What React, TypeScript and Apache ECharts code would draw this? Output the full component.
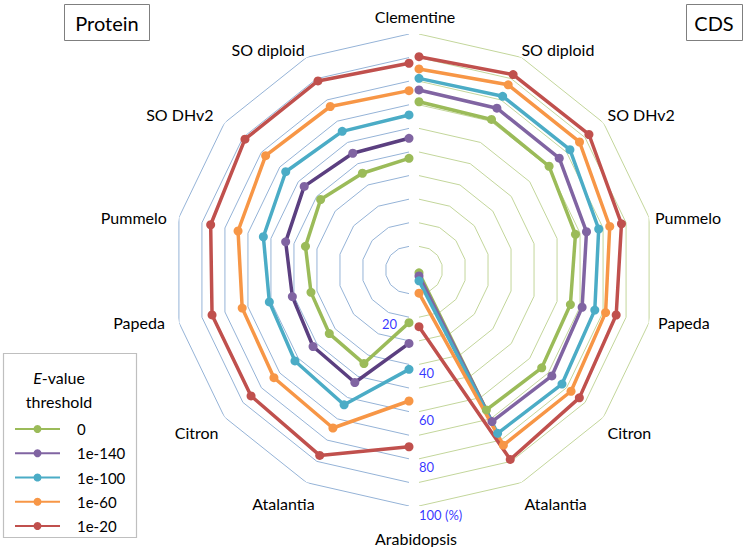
import React, { useEffect, useRef } from "react";
import * as echarts from "echarts";

// Category order: from the top (Clementine) down to the bottom (Arabidopsis);
// the right half runs clockwise, the left half counter-clockwise.
const categories = ["Clementine", "SO diploid", "SO DHv2", "Pummelo", "Papeda", "Citron", "Atalantia", "Arabidopsis"];
const thresholds = ["0", "1e-140", "1e-100", "1e-60", "1e-20"];

// Protein (left half), percent, in category order
const protein0 = [47.3, 45.5, 47.9, 45.0, 42.6, 43.2, 44.0, 22.3];
const protein1e140 = [55.8, 54.9, 56.8, 53.6, 50.7, 52.0, 52.9, 31.1];
const protein1e100 = [65.7, 65.2, 66.8, 63.3, 60.7, 61.8, 63.4, 42.1];
const protein1e60 = [76.0, 76.9, 77.7, 74.3, 72.5, 73.2, 74.3, 55.5];
const protein1e20 = [87.6, 88.9, 88.9, 86.2, 85.6, 85.6, 87.2, 74.9];

// CDS (right half), percent, in category order
const cds0 = [71.3, 70.8, 70.5, 68.0, 65.8, 66.5, 65.8, 1.2];
const cds1e140 = [76.3, 76.1, 76.0, 72.8, 70.9, 72.0, 71.3, 2.5];
const cds1e100 = [81.2, 81.7, 81.8, 78.1, 76.4, 77.5, 76.8, 4.6];
const cds1e60 = [85.2, 87.1, 87.0, 82.9, 81.1, 82.4, 82.4, 9.8];
const cds1e20 = [90.4, 91.9, 92.1, 88.0, 85.7, 86.9, 89.1, 24.0];

const ringLevels = [10, 20, 30, 40, 50, 60, 70, 80, 90, 100];
const tickValues = [20, 40, 60, 80, 100];
const tickLabels = ["20", "40", "60", "80", "100 (%)"];

const proteinSeries = [protein0, protein1e140, protein1e100, protein1e60, protein1e20];
const cdsSeries = [cds0, cds1e140, cds1e100, cds1e60, cds1e20];

const colors = ["#9BBB59", "#8064A2", "#4BACC6", "#F79646", "#C0504D"];
const leftLineColors = ["#9BBB59", "#5B3F80", "#4BACC6", "#F79646", "#C0504D"];
const FONT = "Lato";
const N = 14; // slots around the full circle

// label padding tweaks (style only) per slot index
const padsRight: Record<number, number[]> = {
  0: [0, 8, 10, 0],
  1: [0, 0, 0, 0],
  2: [0, 0, 0, 4],
  3: [3, 0, 0, 6],
  4: [11, 0, 0, 9],
  5: [7, 0, 0, 4],
  6: [13, 0, 0, 3],
  7: [24, 6, 0, 0],
};
const padsLeft: Record<number, number[]> = {
  1: [0, 2, 0, 0],
  2: [0, 11, 0, 0],
  3: [3, 12, 0, 0],
  4: [11, 14, 0, 0],
  5: [7, 6, 0, 0],
  6: [13, -8, 0, 0],
};

const slots = categories.map((_, i) => i);

function axisData(side: string, pads: Record<number, number[]>) {
  const out: any[] = [];
  for (let k = 0; k < N; k++) {
    out.push({ value: side + k, textStyle: { padding: pads[k] || [0, 0, 0, 0] } });
  }
  return out;
}

export default function App() {
  const ref = useRef<HTMLDivElement>(null);
  useEffect(() => {
    if (!ref.current) return;
    const chart = echarts.init(ref.current, undefined, { renderer: "svg" });

    const angleCommon = {
      type: "category",
      boundaryGap: false,
      startAngle: 90,
      axisLine: { show: false },
      axisTick: { show: false },
      splitLine: { show: false },
      splitArea: { show: false },
    };
    const radiusCommon = {
      type: "value",
      min: 0,
      max: 100,
      axisLine: { show: false },
      axisTick: { show: false },
      axisLabel: { show: false },
      splitLine: { show: false },
      splitArea: { show: false },
    };

    const series: any[] = [];
    // grid rings
    ringLevels.forEach((lv) => {
      series.push({
        type: "line",
        coordinateSystem: "polar",
        polarIndex: 0,
        clip: false,
        data: slots.map((k) => [lv, k]),
        symbol: "none",
        silent: true,
        lineStyle: { color: "#95B3D7", width: 1 },
        z: 1,
      });
      series.push({
        type: "line",
        coordinateSystem: "polar",
        polarIndex: 1,
        clip: false,
        data: slots.map((k) => [lv, k]),
        symbol: "none",
        silent: true,
        lineStyle: { color: "#C3D69B", width: 1 },
        z: 1,
      });
    });
    // data
    thresholds.forEach((name, i) => {
      series.push({
        name,
        type: "line",
        coordinateSystem: "polar",
        polarIndex: 1,
        clip: false,
        data: cdsSeries[i].map((v, j) => [v, slots[j]]),
        symbol: "circle",
        symbolSize: 9,
        lineStyle: { color: colors[i], width: 3.5 },
        itemStyle: { color: colors[i] },
        z: 3,
      });
      series.push({
        name,
        type: "line",
        coordinateSystem: "polar",
        polarIndex: 0,
        clip: false,
        data: proteinSeries[i].map((v, j) => [v, slots[j]]),
        symbol: "circle",
        symbolSize: 9,
        lineStyle: { color: leftLineColors[i], width: 3.5 },
        itemStyle: { color: colors[i] },
        z: 3,
      });
    });
    // radial tick labels along the bottom axis
    series.push({
      type: "scatter",
      coordinateSystem: "polar",
      polarIndex: 1,
      clip: false,
      silent: true,
      symbolSize: 0,
      itemStyle: { color: "transparent" },
      z: 5,
      data: tickValues.map((v, i) =>
        i === 0
          ? { value: [v, 7], label: { align: "right", offset: [-22, 0] } }
          : { value: [v, 7] }
      ),
      label: {
        show: true,
        position: "inside",
        align: "left",
        verticalAlign: "top",
        offset: [0, 2],
        color: "#0000FF",
        fontSize: 13,
        fontFamily: FONT,
        formatter: (p: any) => tickLabels[p.dataIndex],
      },
    });

    chart.setOption({
      animation: false,
      backgroundColor: "#ffffff",
      polar: [
        { center: [409, 270], radius: 236 },
        { center: [419, 270], radius: 236 },
      ],
      angleAxis: [
        {
          ...angleCommon,
          polarIndex: 0,
          clockwise: false,
          data: axisData("L", padsLeft),
          axisLabel: {
            show: true,
            interval: 0,
            margin: 0,
            color: "#000",
            fontSize: 16,
            fontFamily: FONT,
            formatter: (_v: any, idx: number) => (idx >= 1 && idx <= 6 ? categories[idx] : ""),
          },
        },
        {
          ...angleCommon,
          polarIndex: 1,
          clockwise: true,
          data: axisData("R", padsRight),
          axisLabel: {
            show: true,
            interval: 0,
            margin: 0,
            color: "#000",
            fontSize: 16,
            fontFamily: FONT,
            formatter: (_v: any, idx: number) => (idx <= 7 ? categories[idx] : ""),
          },
        },
      ],
      radiusAxis: [
        { ...radiusCommon, polarIndex: 0 },
        { ...radiusCommon, polarIndex: 1 },
      ],
      legend: {
        data: thresholds,
        orient: "vertical",
        left: 14,
        top: 421.5,
        padding: 0,
        itemWidth: 45,
        itemHeight: 10,
        itemGap: 9.25,
        selectedMode: false,
        textStyle: { color: "#000", fontSize: 15, fontFamily: FONT, padding: [0, 0, 0, 12] },
      },
      graphic: [
        {
          type: "rect",
          shape: { x: 64.5, y: 4.5, width: 85, height: 36 },
          style: { fill: "#fff", stroke: "#7F7F7F", lineWidth: 1 },
        },
        {
          type: "text",
          x: 107,
          y: 23,
          style: { text: "Protein", fontSize: 20, fontFamily: FONT, fill: "#000", align: "center", verticalAlign: "middle" },
        },
        {
          type: "rect",
          shape: { x: 686.5, y: 4.5, width: 56, height: 36 },
          style: { fill: "#fff", stroke: "#7F7F7F", lineWidth: 1 },
        },
        {
          type: "text",
          x: 714,
          y: 23,
          style: { text: "CDS", fontSize: 20, fontFamily: FONT, fill: "#000", align: "center", verticalAlign: "middle" },
        },
        {
          type: "rect",
          shape: { x: 3.5, y: 353.5, width: 133, height: 184 },
          style: { fill: "transparent", stroke: "#BFBFBF", lineWidth: 1.2 },
        },
        {
          type: "text",
          x: 59,
          y: 389,
          style: {
            text: "{i|E}-value\nthreshold",
            fontSize: 16,
            fontFamily: FONT,
            fill: "#000",
            align: "center",
            verticalAlign: "middle",
            lineHeight: 24,
            rich: { i: { fontStyle: "italic", fontSize: 16, fontFamily: FONT, lineHeight: 24 } },
          },
        },
      ],
      series,
    });
    return () => chart.dispose();
  }, []);
  return (
    <div
      ref={ref}
      style={{ position: "fixed", left: 0, top: 0, width: 745, height: 547, background: "#fff" }}
    />
  );
}
